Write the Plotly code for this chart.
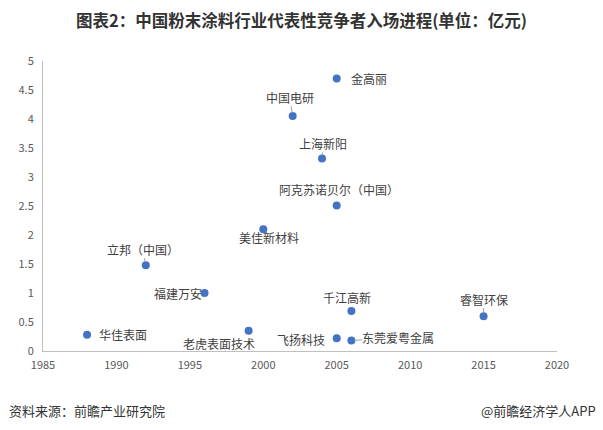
import plotly.graph_objects as go

# ---- data ----
companies = ["华佳表面", "立邦（中国）", "福建万安", "老虎表面技术", "美佳新材料",
             "中国电研", "金高丽", "上海新阳", "阿克苏诺贝尔（中国）", "千江高新",
             "飞扬科技", "东莞爱粤金属", "睿智环保"]
entry_year = [1988, 1992, 1996, 1999, 2000, 2002, 2005, 2004, 2005, 2006, 2005, 2006, 2015]
scale_value = [0.28, 1.48, 1.0, 0.35, 2.1, 4.05, 4.7, 3.32, 2.51, 0.69, 0.22, 0.18, 0.6]

x_ticks = [1985, 1990, 1995, 2000, 2005, 2010, 2015, 2020]
y_ticks = [0, 0.5, 1, 1.5, 2, 2.5, 3, 3.5, 4, 4.5, 5]

# ---- label placement (pixels): (dx, dy, xanchor, leader) ----
label_style = {
    "华佳表面": (10, 0, "left", False),
    "立邦（中国）": (-3, -16, "center", True),
    "福建万安": (-1, 0, "right", False),
    "老虎表面技术": (-30, 13, "center", False),
    "美佳新材料": (6, 8, "center", False),
    "中国电研": (-3, -19, "center", True),
    "金高丽": (12, 0, "left", False),
    "上海新阳": (1, -15, "center", True),
    "阿克苏诺贝尔（中国）": (2, -16, "center", False),
    "千江高新": (-4, -13, "center", False),
    "飞扬科技": (-10, 1, "right", False),
    "东莞爱粤金属": (47, -3, "center", True),
    "睿智环保": (0, -17, "center", True),
}

FONT = "Noto Sans CJK SC, Microsoft YaHei, sans-serif"
L, R, T, B = 43, 46, 61, 79
PW, PH = 603 - L - R, 430 - T - B

fig = go.Figure()
fig.add_trace(go.Scatter(
    x=entry_year, y=scale_value, mode="markers",
    marker=dict(color="#4472C4", size=8),
    hoverinfo="text", text=companies, showlegend=False,
))

for name, xv, yv in zip(companies, entry_year, scale_value):
    dx, dy, xa, leader = label_style[name]
    if leader:
        fig.add_annotation(
            x=xv, y=yv, xref="x", yref="y", text=name,
            showarrow=True, ax=dx, ay=dy, arrowhead=0, arrowwidth=1,
            arrowcolor="#a0a0a0", standoff=3, borderpad=0,
            font=dict(family=FONT, size=12, color="#404040"),
        )
    else:
        fig.add_annotation(
            x=xv, y=yv, xref="x", yref="y", text=name,
            showarrow=False, xanchor=xa, yanchor="middle",
            xshift=dx, yshift=-dy,
            font=dict(family=FONT, size=12, color="#404040"),
        )

# footer texts (pixel positions converted to paper coords)
fig.add_annotation(
    x=(7 - L) / PW, y=(430 - B - 410) / PH, xref="paper", yref="paper",
    text="资料来源：前瞻产业研究院", showarrow=False, xanchor="left", yanchor="middle",
    font=dict(family=FONT, size=13, color="#333333"),
)
fig.add_annotation(
    x=(598 - L) / PW, y=(430 - B - 410) / PH, xref="paper", yref="paper",
    text="@前瞻经济学人APP", showarrow=False, xanchor="right", yanchor="middle",
    font=dict(family=FONT, size=13, color="#333333"),
)

fig.update_layout(
    width=603, height=430,
    margin=dict(l=L, r=R, t=T, b=B),
    paper_bgcolor="white", plot_bgcolor="white",
    title=dict(
        text="<b>图表2：中国粉末涂料行业代表性竞争者入场进程(单位：亿元)</b>",
        x=0.5, xanchor="center", y=1 - 21 / 430, yanchor="middle",
        font=dict(family=FONT, size=16.5, color="#333333"),
    ),
    xaxis=dict(
        range=[1985, 2020], tickvals=x_ticks, ticktext=[str(v) for v in x_ticks],
        showgrid=False, zeroline=False, showline=True, linecolor="#bfbfbf", linewidth=1,
        ticks="outside", ticklen=4, tickcolor="rgba(0,0,0,0)",
        tickfont=dict(family=FONT, size=11, color="#595959"),
    ),
    yaxis=dict(
        range=[0, 5], tickvals=y_ticks, ticktext=[f"{v:g}" for v in y_ticks],
        showgrid=False, zeroline=False, showline=True, linecolor="#bfbfbf", linewidth=1,
        ticks="outside", ticklen=6, tickcolor="rgba(0,0,0,0)",
        tickfont=dict(family=FONT, size=11, color="#595959"),
    ),
)

fig.write_html(
    "out.html",
    config={"displayModeBar": False},
    post_script="document.body.style.margin='0';document.body.style.overflow='hidden';",
)
